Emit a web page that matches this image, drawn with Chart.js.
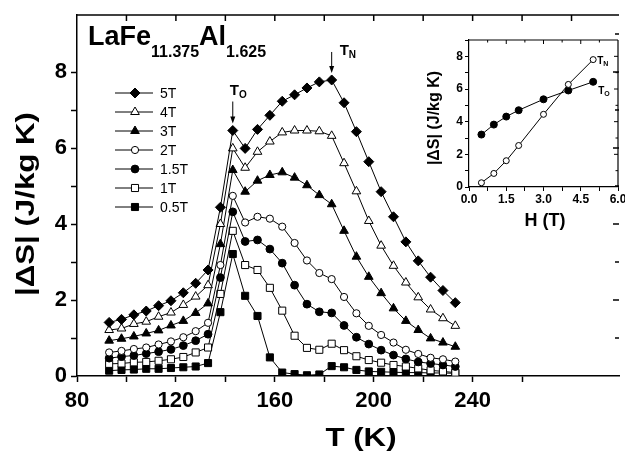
<!DOCTYPE html>
<html>
<head>
<meta charset="utf-8">
<style>
  html, body { margin: 0; padding: 0; background: #fff; overflow: hidden; }
  #wrap { position: relative; width: 625px; height: 454px; overflow: hidden; }
  #mainChart { position: absolute; left: 0; top: 0; }
  #insetChart { position: absolute; left: 420px; top: 25px; }
</style>
<script src="https://cdn.jsdelivr.net/npm/chart.js@4.4.1/dist/chart.umd.min.js"></script>
</head>
<body>
<div id="wrap">
  <canvas id="mainChart" width="625" height="454"></canvas>
  <canvas id="insetChart" width="205" height="215"></canvas>
</div>
<script>
// temperatures (K) of the measured points
const temperatures = [93, 98, 103, 108, 113, 118, 123, 128, 133, 138, 143, 148, 153, 158, 163,
  168, 173, 178, 183, 188, 193, 198, 203, 208, 213, 218, 223, 228, 233];

// |dS| (J/kg K) per field
const field5T = [1.41, 1.49, 1.61, 1.71, 1.85, 1.98, 2.19, 2.44, 2.79, 4.44, 6.46, 5.99, 6.49, 6.86, 7.23,
  7.40, 7.58, 7.74, 7.79, 7.19, 6.43, 5.64, 4.85, 4.19, 3.53, 3.03, 2.60, 2.25, 1.93];
const field4T = [1.21, 1.25, 1.37, 1.43, 1.56, 1.67, 1.87, 2.09, 2.39, 4.00, 5.99, 5.48, 5.90, 6.17, 6.41,
  6.46, 6.46, 6.44, 6.32, 5.60, 4.86, 4.08, 3.43, 2.90, 2.46, 2.07, 1.75, 1.52, 1.32];
const field3T = [0.93, 0.98, 1.04, 1.12, 1.20, 1.33, 1.45, 1.66, 1.91, 3.47, 5.42, 4.85, 5.14, 5.29, 5.36,
  5.22, 5.02, 4.76, 4.52, 3.82, 3.14, 2.61, 2.18, 1.78, 1.45, 1.21, 0.99, 0.88, 0.77];
const field2T = [0.62, 0.66, 0.71, 0.75, 0.83, 0.91, 1.02, 1.18, 1.40, 2.92, 4.74, 4.04, 4.19, 4.14, 3.93,
  3.50, 3.04, 2.71, 2.55, 2.08, 1.65, 1.32, 1.08, 0.88, 0.69, 0.58, 0.48, 0.44, 0.38];
const field1p5T = [0.47, 0.51, 0.54, 0.59, 0.64, 0.70, 0.80, 0.93, 1.10, 2.59, 4.32, 3.54, 3.58, 3.34, 2.97,
  2.39, 1.89, 1.69, 1.66, 1.33, 1.02, 0.84, 0.68, 0.55, 0.45, 0.37, 0.33, 0.29, 0.25];
const field1T = [0.32, 0.33, 0.36, 0.37, 0.40, 0.44, 0.50, 0.62, 0.75, 2.16, 3.82, 2.92, 2.79, 2.32, 1.72,
  1.06, 0.74, 0.69, 0.85, 0.68, 0.52, 0.42, 0.35, 0.29, 0.25, 0.20, 0.15, 0.12, 0.09];
const field0p5T = [0.14, 0.16, 0.17, 0.19, 0.19, 0.21, 0.23, 0.25, 0.34, 1.68, 3.21, 2.11, 1.58, 0.49, 0.09,
  0.05, 0.02, 0.04, 0.26, 0.23, 0.16, 0.12, 0.11, 0.10, 0.09, 0.09, 0.08, 0.08, 0.07];

const fieldNames = ["5T", "4T", "3T", "2T", "1.5T", "1T", "0.5T"];
const fieldSeries = [field5T, field4T, field3T, field2T, field1p5T, field1T, field0p5T];

const xTickLabels = [80, 120, 160, 200, 240, 280];
const yTickLabels = [0, 2, 4, 6, 8];

// inset: peak values against field
const insetField = [0.5, 1, 1.5, 2, 3, 4, 5];
const insetTN = [0.26, 0.83, 1.61, 2.54, 4.45, 6.28, 7.80];
const insetTO = [3.21, 3.82, 4.31, 4.70, 5.37, 5.91, 6.44];
const insetXTickLabels = [0, 1.5, 3, 4.5, 6];
const insetYTickLabels = [0, 2, 4, 6, 8];

const FONT = "'Liberation Sans', Arial, Helvetica, sans-serif";

const markerStyles = [
  { pointStyle: "rectRot", radius: 5, fill: "#000" },
  { pointStyle: "triangle", radius: 5, fill: "#fff" },
  { pointStyle: "triangle", radius: 5, fill: "#000" },
  { pointStyle: "circle", radius: 3.6, fill: "#fff" },
  { pointStyle: "circle", radius: 3.9, fill: "#000" },
  { pointStyle: "rect", radius: 5, fill: "#fff" },
  { pointStyle: "rect", radius: 5, fill: "#000" }
];

function drawMarker(ctx, style, x, y) {
  ctx.save();
  ctx.fillStyle = style.fill;
  ctx.strokeStyle = "#000";
  ctx.lineWidth = 1;
  Chart.helpers.drawPoint(ctx, { pointStyle: style.pointStyle, radius: style.radius, borderWidth: 1, rotation: 0 }, x, y);
  ctx.restore();
}

function line(ctx, x1, y1, x2, y2) {
  ctx.beginPath();
  ctx.moveTo(x1, y1);
  ctx.lineTo(x2, y2);
  ctx.stroke();
}

function arrowDown(ctx, x, yTop, yTip) {
  ctx.lineWidth = 1;
  line(ctx, x, yTop, x, yTip - 5);
  ctx.beginPath();
  ctx.moveTo(x - 2.5, yTip - 7);
  ctx.lineTo(x + 2.5, yTip - 7);
  ctx.lineTo(x, yTip);
  ctx.closePath();
  ctx.fill();
}

// text with subscripts: parts = [[text, size, drop], ...]
function subText(ctx, parts, x, baseline) {
  let cx = x;
  parts.forEach(([text, size, drop]) => {
    ctx.font = `bold ${size}px ${FONT}`;
    ctx.fillText(text, cx, baseline + drop);
    cx += ctx.measureText(text).width;
  });
}

// the axis titles of the original are set in a wide bold face
function wideTitle(ctx, text, x, y, angle) {
  ctx.save();
  ctx.translate(x, y);
  ctx.rotate(angle);
  ctx.scale(1.2, 1);
  ctx.font = `bold 26px ${FONT}`;
  ctx.textAlign = "center";
  ctx.textBaseline = "middle";
  ctx.fillText(text, 0, 0);
  ctx.restore();
}

function clearPadding(scale) {
  scale.paddingLeft = 0;
  scale.paddingRight = 0;
  scale.paddingTop = 0;
  scale.paddingBottom = 0;
}

const mainDecor = {
  id: "mainDecor",
  afterDraw(chart) {
    const ctx = chart.ctx;
    const xs = chart.scales.x;
    const ys = chart.scales.y;
    const area = chart.chartArea;

    ctx.save();
    ctx.strokeStyle = "#000";
    ctx.fillStyle = "#000";

    // top border and inward ticks on top / right
    ctx.lineWidth = 1.5;
    line(ctx, area.left, area.top, area.right, area.top);
    for (let t = 100; t <= 280; t += 20) {
      const px = xs.getPixelForValue(t);
      line(ctx, px, area.top, px, area.top + 6);
    }
    for (let v = 1; v <= 9; v++) {
      const py = ys.getPixelForValue(v);
      line(ctx, area.right, py, area.right - (v % 2 === 0 ? 6 : 4), py);
    }

    // compound name
    ctx.textBaseline = "alphabetic";
    ctx.textAlign = "left";
    subText(ctx, [["LaFe", 27, 0], ["11.375", 16, 12], ["Al", 27, 0], ["1.625", 16, 12]], 88, 45);

    // transition markers on the 5T curve
    const meta = chart.getDatasetMeta(0);
    const pO = meta.data[temperatures.indexOf(143)];
    const pN = meta.data[temperatures.indexOf(183)];
    arrowDown(ctx, pO.x, pO.y - 29, pO.y - 7);
    subText(ctx, [["T", 15, 0], ["O", 10, 3]], pO.x - 3, pO.y - 36);
    arrowDown(ctx, pN.x, pN.y - 28, pN.y - 7);
    subText(ctx, [["T", 15, 0], ["N", 10, 3]], pN.x + 8, pN.y - 25);

    // legend
    ctx.font = `14px ${FONT}`;
    ctx.textBaseline = "middle";
    fieldNames.forEach((name, i) => {
      const y = 93 + i * 19;
      ctx.lineWidth = 1;
      line(ctx, 115, y, 153, y);
      drawMarker(ctx, markerStyles[i], 135, y);
      ctx.fillStyle = "#000";
      ctx.fillText(name, 160, y + 1);
    });

    // axis titles
    wideTitle(ctx, "T (K)", 361, 439, 0);
    wideTitle(ctx, "|\u0394S| (J/kg K)", 27, 204, -Math.PI / 2);

    ctx.restore();
  }
};

const insetDecor = {
  id: "insetDecor",
  afterDraw(chart) {
    const ctx = chart.ctx;
    const xs = chart.scales.x;
    const ys = chart.scales.y;
    const area = chart.chartArea;

    ctx.save();
    ctx.strokeStyle = "#000";
    ctx.fillStyle = "#000";
    ctx.lineWidth = 1.2;
    line(ctx, area.left, area.top, area.right, area.top);
    line(ctx, area.right, area.top, area.right, area.bottom);
    ctx.lineWidth = 1;
    for (let t = 0.75; t < 6; t += 0.75) {
      const px = xs.getPixelForValue(t);
      line(ctx, px, area.top, px, area.top + (t % 1.5 === 0 ? 4 : 2.5));
    }
    for (let v = 1; v <= 8; v++) {
      const py = ys.getPixelForValue(v);
      line(ctx, area.right, py, area.right - (v % 2 === 0 ? 4 : 2.5), py);
    }

    ctx.textAlign = "left";
    ctx.textBaseline = "alphabetic";
    const pN = chart.getDatasetMeta(0).data[insetField.length - 1];
    const pO = chart.getDatasetMeta(1).data[insetField.length - 1];
    subText(ctx, [["T", 10, 0], ["N", 7, 2.5]], pN.x + 4, pN.y + 4);
    subText(ctx, [["T", 10, 0], ["O", 7, 2.5]], pO.x + 5, pO.y + 12);

    ctx.textAlign = "center";
    ctx.textBaseline = "middle";
    ctx.font = `bold 18px ${FONT}`;
    ctx.fillText("H (T)", 125, 196);
    ctx.save();
    ctx.translate(15, 93);
    ctx.rotate(-Math.PI / 2);
    ctx.font = `bold 16px ${FONT}`;
    ctx.fillText("|\u0394S| (J/kg K)", 0, 0);
    ctx.restore();
    ctx.restore();
  }
};

const mainDatasets = fieldSeries.map((values, i) => ({
  label: fieldNames[i],
  data: temperatures.map((t, k) => ({ x: t, y: values[k] })),
  borderColor: "#000",
  borderWidth: 1,
  tension: 0,
  pointStyle: markerStyles[i].pointStyle,
  pointRadius: markerStyles[i].radius,
  pointBackgroundColor: markerStyles[i].fill,
  pointBorderColor: "#000",
  pointBorderWidth: 1
}));

new Chart(document.getElementById("mainChart"), {
  type: "line",
  data: { datasets: mainDatasets },
  options: {
    responsive: false,
    animation: false,
    devicePixelRatio: 1,
    events: [],
    layout: { padding: { top: 15, right: 0, left: 0, bottom: 0 } },
    plugins: { legend: { display: false }, tooltip: { enabled: false } },
    scales: {
      x: {
        type: "linear",
        min: 80,
        max: 299.2,
        afterFit: (scale) => { scale.height = 78; clearPadding(scale); },
        border: { color: "#000", width: 1.5 },
        grid: {
          drawOnChartArea: false,
          tickLength: 6,
          tickWidth: 1.5,
          tickColor: (c) => (c.tick && c.tick.value % 20 === 0 ? "#000" : "rgba(0,0,0,0)")
        },
        ticks: {
          stepSize: 20,
          autoSkip: false,
          maxRotation: 0,
          padding: 6,
          color: "#000",
          font: { family: FONT, size: 22, weight: "bold" },
          callback: (v) => (xTickLabels.includes(v) ? String(v) : "")
        }
      },
      y: {
        min: 0,
        max: 9.5,
        afterFit: (scale) => { scale.width = 77; clearPadding(scale); },
        border: { color: "#000", width: 1.5 },
        grid: {
          drawOnChartArea: false,
          tickLength: 6,
          tickWidth: 1.5,
          tickColor: (c) => (c.tick && c.tick.value % 1 === 0 ? "#000" : "rgba(0,0,0,0)")
        },
        ticks: {
          stepSize: 1,
          autoSkip: false,
          padding: 4,
          color: "#000",
          font: { family: FONT, size: 22, weight: "bold" },
          callback: (v) => (yTickLabels.includes(v) ? String(v) : "")
        }
      }
    }
  },
  plugins: [mainDecor]
});

new Chart(document.getElementById("insetChart"), {
  type: "line",
  data: {
    datasets: [
      {
        label: "TN",
        data: insetField.map((h, k) => ({ x: h, y: insetTN[k] })),
        borderColor: "#000",
        borderWidth: 1,
        tension: 0,
        pointStyle: "circle",
        pointRadius: 3,
        pointBackgroundColor: "#fff",
        pointBorderColor: "#000",
        pointBorderWidth: 1
      },
      {
        label: "TO",
        data: insetField.map((h, k) => ({ x: h, y: insetTO[k] })),
        borderColor: "#000",
        borderWidth: 1,
        tension: 0,
        pointStyle: "circle",
        pointRadius: 3.5,
        pointBackgroundColor: "#000",
        pointBorderColor: "#000",
        pointBorderWidth: 1
      }
    ]
  },
  options: {
    responsive: false,
    animation: false,
    devicePixelRatio: 1,
    events: [],
    layout: { padding: { top: 15, right: 7, left: 0, bottom: 0 } },
    plugins: { legend: { display: false }, tooltip: { enabled: false } },
    scales: {
      x: {
        type: "linear",
        min: 0,
        max: 6,
        afterFit: (scale) => { scale.height = 53; clearPadding(scale); },
        border: { color: "#000", width: 1.2 },
        grid: { drawOnChartArea: false, tickLength: 4, tickWidth: 1, tickColor: "#000" },
        ticks: {
          stepSize: 0.75,
          autoSkip: false,
          maxRotation: 0,
          padding: 1,
          color: "#000",
          font: { family: FONT, size: 12, weight: "bold" },
          callback: (v) => (insetXTickLabels.includes(v) ? v.toFixed(1) : "")
        }
      },
      y: {
        min: 0,
        max: 9,
        afterFit: (scale) => { scale.width = 49; clearPadding(scale); },
        border: { color: "#000", width: 1.2 },
        grid: { drawOnChartArea: false, tickLength: 4, tickWidth: 1, tickColor: "#000" },
        ticks: {
          stepSize: 1,
          autoSkip: false,
          padding: 2,
          color: "#000",
          font: { family: FONT, size: 12, weight: "bold" },
          callback: (v) => (insetYTickLabels.includes(v) ? String(v) : "")
        }
      }
    }
  },
  plugins: [insetDecor]
});
</script>
</body>
</html>
